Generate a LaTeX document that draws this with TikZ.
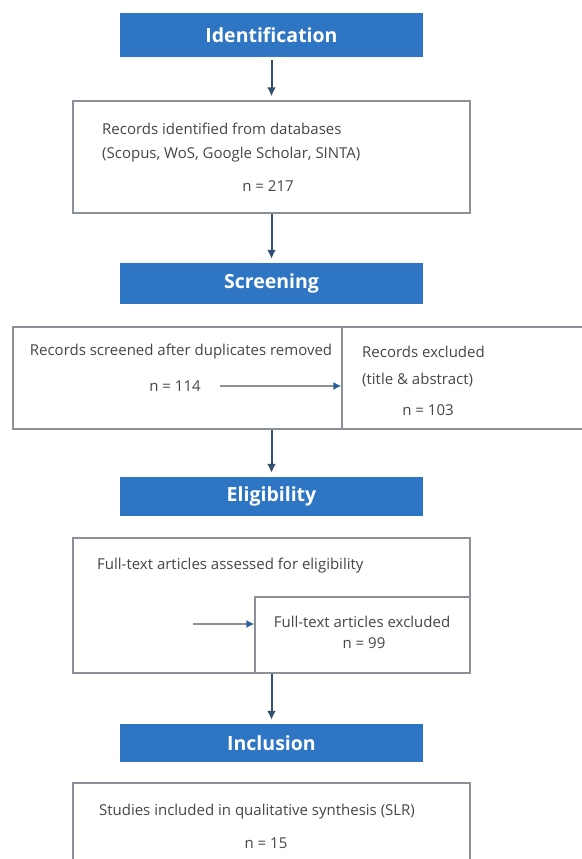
\documentclass[tikz,border=0pt]{standalone}
\usepackage{fontspec}
\setmainfont{Open Sans}
\usetikzlibrary{arrows.meta, positioning}
\definecolor{bandblue}{RGB}{46,118,196}
\definecolor{boxgray}{RGB}{140,144,153}
\definecolor{textgray}{RGB}{70,70,70}
\definecolor{arrowblue}{RGB}{51,80,111}
\definecolor{tipblue}{RGB}{42,95,158}

\begin{document}
\begin{tikzpicture}[
    x=1pt, y=1pt,
    every node/.style={font=\fontsize{15}{18}\selectfont, text=textgray, inner sep=0pt},
    phase/.style={rectangle, fill=bandblue, minimum width=303pt, minimum height=40pt, text=white, font=\fontsize{19.5}{22}\selectfont\bfseries},
    record/.style={rectangle, draw=boxgray, line width=1.4pt, fill=white},
    arrow/.style={-{Latex[length=9pt,width=9pt]}, line width=2pt, draw=arrowblue, shorten >=4pt},
    sidearrow/.style={line width=1.4pt, draw=boxgray, -{Latex[length=8pt,width=8pt,color=tipblue]}}
]
\useasboundingbox (0,0) rectangle (581,-859);

% phase bands
\node[phase, minimum height=44pt] (ident) at (271.5,-35) {Identification};
\node[phase, minimum height=41pt] (screen) at (271.5,-283.5) {Screening};
\node[phase, minimum height=39pt] (elig) at (271.5,-496.5) {Eligibility};
\node[phase, minimum height=38pt] (incl) at (271.5,-743) {Inclusion};

% record boxes
\node[record, minimum width=397pt, minimum height=112pt] (found) at (271.5,-157) {};
\node[record, minimum width=329pt, minimum height=102pt] (screened) at (177.5,-378) {};
\node[record, minimum width=258pt, minimum height=102pt] (dropped) at (471,-378) {};
\node[record, minimum width=397pt, minimum height=135pt] (assessed) at (271.5,-605.5) {};
\node[record, minimum width=215pt, minimum height=76pt] (excluded) at (362.5,-635) {};
\node[record, minimum width=397pt, minimum height=117pt] (included) at (271.5,-841.5) {};

% texts
\node[anchor=west] (found1) at (102,-129) {Records identified from databases};
\node[anchor=west] (found2) at (102,-155) {(Scopus, WoS, Google Scholar, SINTA)};
\node (foundn) at (268,-186) {n = 217};

\node (screened1) at (181,-352) {Records screened after duplicates removed};
\node (screenedn) at (175,-386) {n = 114};
\node[anchor=west] (dropped1) at (362,-352) {Records excluded};
\node[anchor=west] (dropped2) at (362,-380) {(title \& abstract)};
\node (droppedn) at (428,-410) {n = 103};

\node[anchor=west] (assessed1) at (97,-566) {Full-text articles assessed for eligibility};
\node (excluded1) at (362,-622) {Full-text articles excluded};
\node (excludedn) at (364,-643) {n = 99};

\node (included1) at (257,-812) {Studies included in qualitative synthesis (SLR)};
\node (includedn) at (266,-843) {n = 15};

% connectors
\coordinate (scrtail) at (220,-386);
\coordinate (fulltail) at (193,-624);

\draw[arrow, shorten <=3pt] (ident) -- (found);
\draw[arrow] (found) -- (screen);
\draw[arrow] (elig |- screened.south) -- (elig);
\draw[arrow] (assessed) -- (incl);
\draw[sidearrow] (scrtail) -- (scrtail -| dropped.west);
\draw[sidearrow] (fulltail) -- (fulltail -| excluded.west);

\end{tikzpicture}
\end{document}
